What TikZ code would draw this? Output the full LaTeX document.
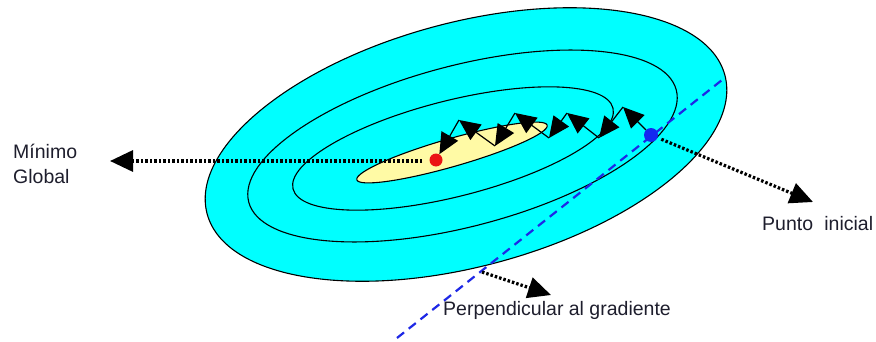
\documentclass[tikz,border=0pt]{standalone}
\usepackage{fontspec}
\setmainfont{Liberation Sans}
\usetikzlibrary{arrows.meta}
\definecolor{cyanfill}{RGB}{0,255,255}
\definecolor{yellowfill}{RGB}{255,250,165}
\definecolor{dashblue}{RGB}{30,40,230}
\definecolor{dotred}{RGB}{235,20,20}
\definecolor{dotblue}{RGB}{20,40,240}
\definecolor{txt}{RGB}{30,30,45}
\begin{document}
\begin{tikzpicture}[x=1pt,y=1pt,
  contour/.style={draw=black, line width=1.1pt},
  steparrow/.style={draw=black, line width=1.2pt, -{Triangle[length=21pt,width=19pt]}},
  dotarrow/.style={draw=black, line width=3.2pt, dash pattern=on 2.5pt off 2pt, -{Triangle[length=23pt,width=21pt]}},
  lbl/.style={font=\fontsize{19.5}{23}\selectfont, text=txt, inner sep=0pt, anchor=base west},
  ]
\useasboundingbox (0,0) rectangle (876,341);
\fill[white] (0,0) rectangle (876,341);
% contours
\draw[contour, fill=cyanfill, rotate around={15:(466,196.5)}] (466,196.5) ellipse [x radius=268, y radius=122];
\draw[contour, rotate around={14.7:(462.5,195)}] (462.5,195) ellipse [x radius=221, y radius=80.5];
\draw[contour, rotate around={14.2:(453,192.5)}] (453,192.5) ellipse [x radius=165, y radius=48];
\draw[contour, fill=yellowfill, rotate around={16:(452,188.5)}] (452,188.5) ellipse [x radius=99, y radius=14];
% perpendicular dashed line
\coordinate (pb) at (397,3);
\coordinate (pt) at (722,261);
\draw[dashblue, line width=2.2pt, dash pattern=on 9pt off 6pt] (pb) -- (pt);
% points
\node[circle, fill=dotred, inner sep=0pt, minimum size=13pt] (min) at (436,181) {};
\node[circle, fill=dotblue, inner sep=0pt, minimum size=14pt] (start) at (651,206) {};
% zigzag path
\coordinate (t1) at (623,234);
\coordinate (d1) at (599,203);
\coordinate (t2) at (567,228);
\coordinate (d2) at (549,203);
\coordinate (t3) at (515,228);
\coordinate (d3) at (495,195);
\coordinate (t4) at (459,221);
\draw[steparrow] (start) -- (t1);
\draw[steparrow] (t1) -- (d1);
\draw[steparrow] (d1) -- (t2);
\draw[steparrow] (t2) -- (d2);
\draw[steparrow] (d2) -- (t3);
\draw[steparrow] (t3) -- (d3);
\draw[steparrow] (d3) -- (t4);
\draw[steparrow] (t4) -- (min);
% dotted arrows
\coordinate (m1) at (422,180);
\coordinate (m2) at (110,180);
\draw[dotarrow] (m1) -- (m2);
\coordinate (s2) at (813,139);
\draw[dotarrow, shorten <=4pt] (start) -- (s2);
\coordinate (p1) at (482,69);
\coordinate (p2) at (551,46);
\draw[dotarrow] (p1) -- (p2);
% labels
\node[lbl] (lblmin1) at (13,183) {Mínimo};
\node[lbl] (lblmin2) at (13,158) {Global};
\node[lbl] (lblpunto) at (762,111) {Punto\hspace{0.3em} inicial};
\node[lbl] (lblperp) at (443,26) {Perpendicular al gradiente};
\end{tikzpicture}
\end{document}
